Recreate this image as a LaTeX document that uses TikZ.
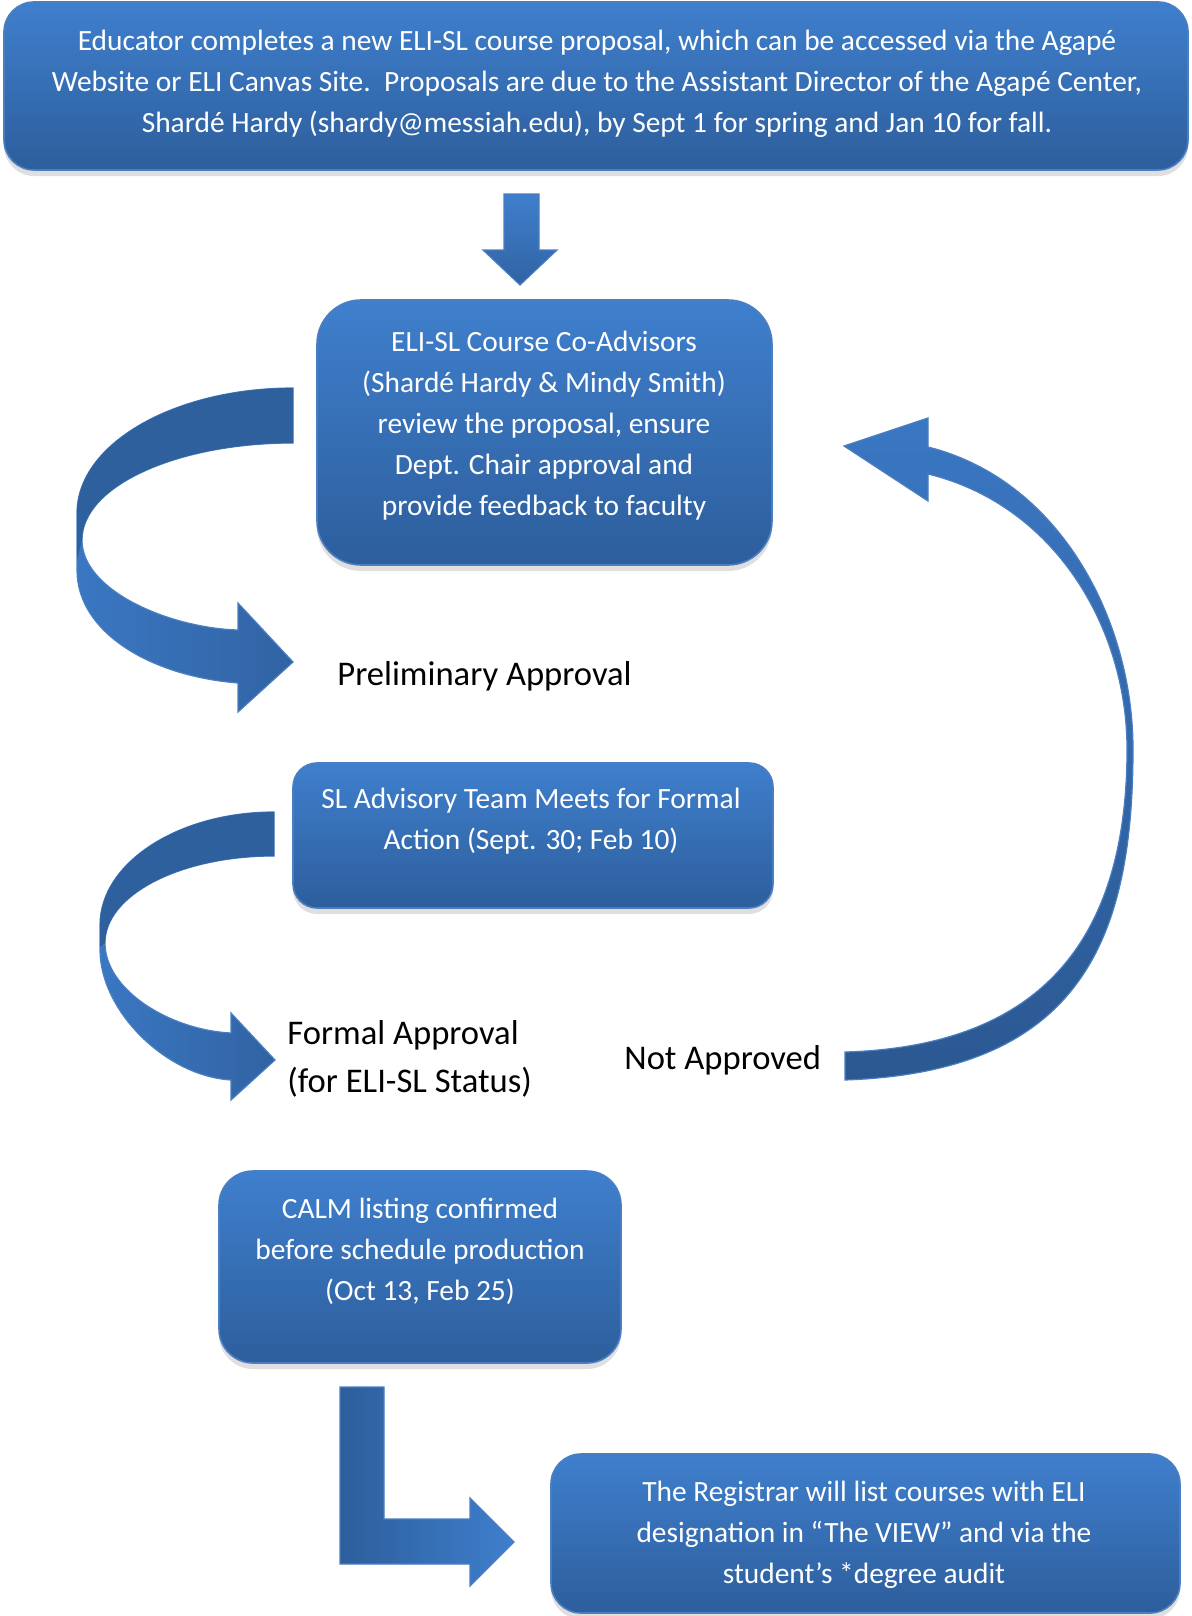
\documentclass[tikz,border=0pt]{standalone}
\usepackage{fontspec}
\setmainfont{Carlito}
\usetikzlibrary{shadows}
\definecolor{btop}{HTML}{3F7FCD}
\definecolor{bbot}{HTML}{2D5E9C}
\definecolor{bedge}{HTML}{4A7EC2}
\definecolor{adark}{HTML}{2F609E}
\definecolor{alight}{HTML}{3A77C2}
\definecolor{amid}{HTML}{3163A3}
\definecolor{adeep}{HTML}{2B5891}
\begin{document}
\begin{tikzpicture}[x=0.5pt,y=-0.5pt,
 box/.style={draw=bedge, line width=0.8pt, top color=btop, bottom color=bbot,
   drop shadow={shadow xshift=0pt, shadow yshift=-3pt, opacity=0.25}, inner sep=0pt},
 boxtext/.style={text=white, align=center, font=\fontsize{14.7}{20.5}\selectfont, inner sep=0pt},
 lbl/.style={text=black, align=left, font=\fontsize{17.3}{24}\selectfont, inner sep=0pt, anchor=west},
 arr/.style={draw=bedge, line width=0.6pt, line join=miter}]
\useasboundingbox (0,0) rectangle (1192,1616);

% boxes
\node[box, rounded corners=15pt, minimum width=592pt, minimum height=84pt] (b1) at (596,86) {};
\node[boxtext] (t1) at (597,83.5) {Educator completes a new ELI-SL course proposal, which can be accessed via the Agapé\\Website or ELI Canvas Site.\ \ Proposals are due to the Assistant Director of the Agapé Center,\\Shardé Hardy (shardy@messiah.edu), by Sept 1 for spring and Jan 10 for fall.};

\node[box, rounded corners=22pt, minimum width=227.5pt, minimum height=132.5pt] (b2) at (544.5,432.5) {};
\node[boxtext] (t2) at (544,426) {ELI-SL Course Co-Advisors\\(Shardé Hardy \& Mindy Smith)\\review the proposal, ensure\\Dept. Chair approval and\\provide feedback to faculty};

\node[box, rounded corners=12pt, minimum width=240pt, minimum height=72.5pt] (b3) at (533,835.5) {};
\node[boxtext] (t3) at (531,821.5) {SL Advisory Team Meets for Formal\\Action (Sept. 30; Feb 10)};

\node[box, rounded corners=17pt, minimum width=201pt, minimum height=96pt] (b4) at (420,1267) {};
\node[boxtext] (t4) at (420,1251) {CALM listing confirmed\\before schedule production\\(Oct 13, Feb 25)};

\node[box, rounded corners=15pt, minimum width=314.5pt, minimum height=79.5pt] (b5) at (865.5,1533.5) {};
\node[boxtext] (t5) at (864,1535) {The Registrar will list courses with ELI\\designation in “The VIEW” and via the\\student’s *degree audit};

% labels
\node[lbl] (l1) at (337,676) {Preliminary Approval};
\node[lbl] (l2) at (287,1059) {Formal Approval\\(for ELI-SL Status)};
\node[lbl] (l3) at (624,1060) {Not Approved};

% down arrow
\draw[arr, top color=btop, bottom color=amid] (504,194) -- (539,194) -- (539,250) -- (557,250) -- (520,285) -- (483,250) -- (504,250) -- cycle;

% curved arrow 1
\draw[arr, left color=alight, right color=amid] (293,388) .. controls (174,388) and (77,444) .. (77,513) -- (77,570) .. controls (77,632) and (150,676) .. (238,683) -- (238,712) -- (293,662) -- (238,603) -- (238,630) .. controls (170,628) and (82,591) .. (82,540) .. controls (82,486) and (177,443) .. (293,443) -- cycle;
\fill[adark] (293,388) .. controls (174,388) and (77,444) .. (77,513) -- (77,560) -- (82,540) .. controls (82,486) and (177,443) .. (293,443) -- cycle;

% curved arrow 2
\draw[arr, left color=alight, right color=amid] (274,812) .. controls (178,812) and (100,863) .. (100,925) -- (100,950) .. controls (100,1010) and (165,1076) .. (231,1080) -- (231,1100) -- (275,1060) -- (231,1013) -- (231,1033) .. controls (170,1030) and (105,990) .. (105,943) .. controls (105,895) and (180,856) .. (274,856) -- cycle;
\fill[adark] (274,812) .. controls (178,812) and (100,863) .. (100,925) -- (100,947) -- (105,943) .. controls (105,895) and (180,856) .. (274,856) -- cycle;

% return arc
\draw[arr, top color=alight, bottom color=adeep] (928,447) .. controls (1060,480) and (1133,620) .. (1133,749) .. controls (1133,940) and (1080,1072) .. (845,1080) -- (845,1052) .. controls (1050,1046) and (1127,930) .. (1127,749) .. controls (1127,628) and (1055,505) .. (928,474) -- (928,501) -- (844,446) -- (928,418) -- cycle;

% bent arrow
\draw[arr, left color=bbot, right color=btop] (340,1387) -- (384,1387) -- (384,1519) -- (470,1519) -- (470,1498) -- (514,1542) -- (470,1586) -- (470,1564) -- (340,1564) -- cycle;
\end{tikzpicture}
\end{document}
